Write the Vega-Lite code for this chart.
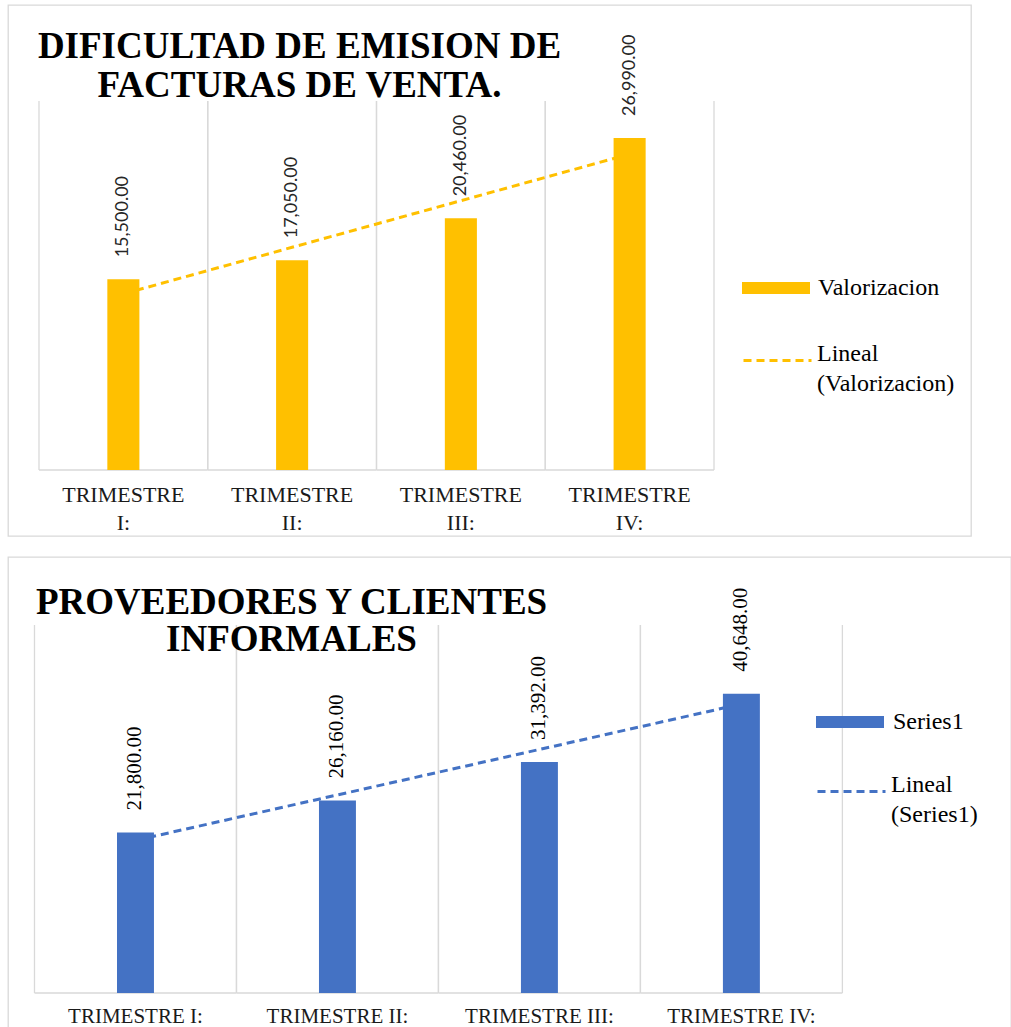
{
  "$schema": "https://vega.github.io/schema/vega-lite/v6.json",
  "background": "white",
  "padding": {"left": 7, "top": 4, "right": 0, "bottom": 0},
  "spacing": 19,
  "resolve": {
    "scale": {"fill": "independent", "stroke": "independent"},
    "legend": {"fill": "independent", "stroke": "independent"}
  },
  "config": {
    "view": {"stroke": "#d9d9d9", "strokeWidth": 1.3},
    "style": {"guide-label": {"lineHeight": 30}}
  },
  "vconcat": [
    {
      "width": 963,
      "height": 531,
      "title": {
        "text": ["DIFICULTAD DE EMISION DE", "FACTURAS DE VENTA."],
        "font": "Liberation Serif", "fontSize": 37, "fontWeight": "bold", "color": "#000000",
        "anchor": "middle", "frame": "group", "offset": -100,
        "dx": -190, "lineHeight": 39
      },
      "data": {"values": [
        {"cat": "TRIMESTRE I:", "value": 15500, "trend": 14318},
        {"cat": "TRIMESTRE II:", "value": 17050, "trend": 18106},
        {"cat": "TRIMESTRE III:", "value": 20460, "trend": 21894},
        {"cat": "TRIMESTRE IV:", "value": 26990, "trend": 25682}
      ]},
      "encoding": {
        "x": {
          "field": "cat", "type": "nominal", "sort": null, "title": null,
          "scale": {"paddingInner": 0, "paddingOuter": 0.8533, "align": 0.1076},
          "axis": {
            "orient": "bottom", "offset": -66, "domain": false, "ticks": false, "grid": false,
            "labelAngle": 0, "labelFont": "Liberation Serif", "labelFontSize": 22, "labelColor": "#1a1a1a",
            "labelPadding": 14, "labelLineHeight": 28, "labelExpr": "split(datum.label, ' ')", "labelLimit": 300
          }
        }
      },
      "layer": [
        {
          "mark": {"type": "rule", "color": "#d9d9d9", "strokeWidth": 1.3},
          "encoding": {
            "x": {"field": "cat", "type": "nominal", "sort": null, "bandPosition": 0},
            "y": {"datum": 0, "type": "quantitative", "scale": {"domain": [-5366, 37805], "nice": false, "zero": false}, "axis": null},
            "y2": {"datum": 30000}
          }
        },
        {
          "mark": {"type": "rule", "color": "#d9d9d9", "strokeWidth": 1.3},
          "encoding": {
            "x": {"field": "cat", "type": "nominal", "sort": null, "bandPosition": 1},
            "y": {"datum": 0, "type": "quantitative"},
            "y2": {"datum": 30000}
          }
        },
        {
          "mark": {"type": "bar", "fill": null, "fillOpacity": 0, "stroke": "#d9d9d9", "strokeWidth": 1.3},
          "encoding": {
            "y": {"datum": 0, "type": "quantitative"},
            "y2": {"datum": 0}
          }
        },
        {
          "mark": {"type": "line", "strokeDash": [8, 5], "strokeWidth": 3, "strokeCap": "butt"},
          "encoding": {
            "y": {"field": "trend", "type": "quantitative"},
            "stroke": {
              "datum": "Lineal (Valorizacion)", "type": "nominal",
              "scale": {"range": ["#FFC000"]},
              "legend": {
                "title": null, "orient": "none", "legendX": 734, "legendY": 320, "padding": 0,
                "symbolType": "stroke", "symbolSize": 4624, "symbolStrokeWidth": 3, "symbolDash": [8, 5],
                "symbolStrokeColor": "#FFC000",
                "labelFont": "Liberation Serif", "labelFontSize": 24, "labelColor": "#000000",
                "labelOffset": 4, "labelLimit": 300, "labelBaseline": "alphabetic",
                "labelExpr": "split(datum.label, ' ')"
              }
            }
          }
        },
        {
          "mark": {"type": "bar", "width": {"band": 0.19}},
          "encoding": {
            "y": {"field": "value", "type": "quantitative"},
            "fill": {
              "datum": "Valorizacion", "type": "nominal",
              "scale": {"range": ["#FFC000"]},
              "legend": {
                "title": null, "orient": "none", "legendX": 734, "legendY": 249, "padding": 0,
                "symbolType": "M-1,-0.18H1V0.18H-1Z", "symbolSize": 4624, "symbolStrokeWidth": 0,
                "labelFont": "Liberation Serif", "labelFontSize": 24, "labelColor": "#000000",
                "labelOffset": 8, "labelLimit": 300, "labelBaseline": "middle"
              }
            }
          }
        },
        {
          "mark": {"type": "text", "angle": -90, "align": "left", "baseline": "middle", "dx": 22,
                   "font": "Lato", "fontSize": 18, "color": "#262626"},
          "encoding": {
            "y": {"field": "value", "type": "quantitative"},
            "text": {"field": "value", "type": "quantitative", "format": ",.2f"}
          }
        }
      ]
    },
    {
      "width": 1003,
      "height": 472,
      "title": {
        "text": ["PROVEEDORES Y CLIENTES", "INFORMALES"],
        "font": "Liberation Serif", "fontSize": 37, "fontWeight": "bold", "color": "#000000",
        "anchor": "middle", "frame": "group", "offset": -102,
        "dx": -218, "lineHeight": 37
      },
      "data": {"values": [
        {"cat": "TRIMESTRE I:", "value": 21800, "trend": 20734},
        {"cat": "TRIMESTRE II:", "value": 26160, "trend": 26911},
        {"cat": "TRIMESTRE III:", "value": 31392, "trend": 33089},
        {"cat": "TRIMESTRE IV:", "value": 40648, "trend": 39266}
      ]},
      "encoding": {
        "x": {
          "field": "cat", "type": "nominal", "sort": null, "title": null,
          "scale": {"paddingInner": 0, "paddingOuter": 0.483, "align": 0.1358},
          "axis": {
            "orient": "bottom", "offset": -36, "domain": false, "ticks": false, "grid": false,
            "labelAngle": 0, "labelFont": "Liberation Serif", "labelFontSize": 21, "labelColor": "#1a1a1a",
            "labelPadding": 12, "labelLimit": 300
          }
        }
      },
      "layer": [
        {
          "mark": {"type": "rule", "color": "#d9d9d9", "strokeWidth": 1.3},
          "encoding": {
            "x": {"field": "cat", "type": "nominal", "sort": null, "bandPosition": 0},
            "y": {"datum": 0, "type": "quantitative", "scale": {"domain": [-4891, 59239], "nice": false, "zero": false}, "axis": null},
            "y2": {"datum": 50000}
          }
        },
        {
          "mark": {"type": "rule", "color": "#d9d9d9", "strokeWidth": 1.3},
          "encoding": {
            "x": {"field": "cat", "type": "nominal", "sort": null, "bandPosition": 1},
            "y": {"datum": 0, "type": "quantitative"},
            "y2": {"datum": 50000}
          }
        },
        {
          "mark": {"type": "bar", "fill": null, "fillOpacity": 0, "stroke": "#d9d9d9", "strokeWidth": 1.3},
          "encoding": {
            "y": {"datum": 0, "type": "quantitative"},
            "y2": {"datum": 0}
          }
        },
        {
          "mark": {"type": "line", "strokeDash": [8, 5], "strokeWidth": 3, "strokeCap": "butt"},
          "encoding": {
            "y": {"field": "trend", "type": "quantitative"},
            "stroke": {
              "datum": "Lineal (Series1)", "type": "nominal",
              "scale": {"range": ["#4472C4"]},
              "legend": {
                "title": null, "orient": "none", "legendX": 808, "legendY": 199, "padding": 0,
                "symbolType": "stroke", "symbolSize": 4624, "symbolStrokeWidth": 3, "symbolDash": [8, 5],
                "symbolStrokeColor": "#4472C4",
                "labelFont": "Liberation Serif", "labelFontSize": 24, "labelColor": "#000000",
                "labelOffset": 4, "labelLimit": 300, "labelBaseline": "alphabetic",
                "labelExpr": "split(datum.label, ' ')"
              }
            }
          }
        },
        {
          "mark": {"type": "bar", "width": {"band": 0.183}},
          "encoding": {
            "y": {"field": "value", "type": "quantitative"},
            "fill": {
              "datum": "Series1", "type": "nominal",
              "scale": {"range": ["#4472C4"]},
              "legend": {
                "title": null, "orient": "none", "legendX": 808, "legendY": 131, "padding": 0,
                "symbolType": "M-1,-0.18H1V0.18H-1Z", "symbolSize": 4624, "symbolStrokeWidth": 0,
                "labelFont": "Liberation Serif", "labelFontSize": 24, "labelColor": "#000000",
                "labelOffset": 9, "labelLimit": 300, "labelBaseline": "middle"
              }
            }
          }
        },
        {
          "mark": {"type": "text", "angle": -90, "align": "left", "baseline": "middle", "dx": 22,
                   "font": "Liberation Serif", "fontSize": 21, "color": "#000000"},
          "encoding": {
            "y": {"field": "value", "type": "quantitative"},
            "text": {"field": "value", "type": "quantitative", "format": ",.2f"}
          }
        }
      ]
    }
  ]
}
